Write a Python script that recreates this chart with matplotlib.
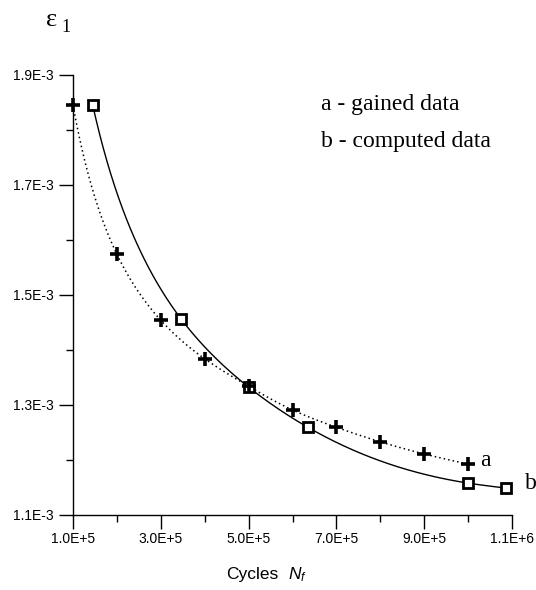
import numpy as np
import matplotlib
matplotlib.use("Agg")
import matplotlib.pyplot as plt

# a - gained data (plus markers, dotted curve)
cycles_a = [1.0e5, 2.0e5, 3.0e5, 4.0e5, 5.0e5, 6.0e5, 7.0e5, 8.0e5, 9.0e5, 1.0e6]
strain_a = [1.845e-3, 1.574e-3, 1.454e-3, 1.384e-3, 1.334e-3, 1.291e-3, 1.2595e-3, 1.233e-3, 1.211e-3, 1.1926e-3]

# b - computed data (square markers, solid curve)
cycles_b = [1.45e5, 3.47e5, 5.0e5, 6.35e5, 1.0e6, 1.086e6]
strain_b = [1.845e-3, 1.4556e-3, 1.3325e-3, 1.2595e-3, 1.158e-3, 1.149e-3]

xticks = [1e5, 3e5, 5e5, 7e5, 9e5, 1.1e6]
xtick_labels = ["1.0E+5", "3.0E+5", "5.0E+5", "7.0E+5", "9.0E+5", "1.1E+6"]
xminor = [2e5, 4e5, 6e5, 8e5, 1e6]
yticks = [1.1e-3, 1.3e-3, 1.5e-3, 1.7e-3, 1.9e-3]
ytick_labels = ["1.1E-3", "1.3E-3", "1.5E-3", "1.7E-3", "1.9E-3"]
yminor = [1.2e-3, 1.4e-3, 1.6e-3, 1.8e-3]

plt.rcParams["mathtext.fontset"] = "custom"
plt.rcParams["mathtext.rm"] = "Liberation Sans"
plt.rcParams["mathtext.it"] = "Liberation Sans:italic"


def spline_curve(x, y, n=400):
    # natural cubic spline through the markers, in log-log space
    t = np.log(np.asarray(x, dtype=float))
    v = np.log(np.asarray(y, dtype=float))
    k = len(t)
    h = np.diff(t)
    A = np.zeros((k, k))
    r = np.zeros(k)
    A[0, 0] = A[-1, -1] = 1.0
    for i in range(1, k - 1):
        A[i, i - 1] = h[i - 1]
        A[i, i] = 2 * (h[i - 1] + h[i])
        A[i, i + 1] = h[i]
        r[i] = 3 * ((v[i + 1] - v[i]) / h[i] - (v[i] - v[i - 1]) / h[i - 1])
    c = np.linalg.solve(A, r)
    b = (v[1:] - v[:-1]) / h - h * (2 * c[:-1] + c[1:]) / 3
    d = (c[1:] - c[:-1]) / (3 * h)
    ts = np.linspace(t[0], t[-1], n)
    idx = np.clip(np.searchsorted(t, ts) - 1, 0, k - 2)
    dt = ts - t[idx]
    vs = v[idx] + b[idx] * dt + c[idx] * dt ** 2 + d[idx] * dt ** 3
    return np.exp(ts), np.exp(vs)


fig = plt.figure(figsize=(5.36, 5.90), dpi=100)
ax = fig.add_axes([73 / 536, 1 - 515 / 590, (512 - 73) / 536, 440 / 590])

xa, ya = spline_curve(cycles_a, strain_a)
xb, yb = spline_curve(cycles_b, strain_b)
ax.plot(xa, ya, color="black", lw=1.1, linestyle=(0, (1, 2)), clip_on=False)
ax.plot(xb, yb, color="black", lw=1.0, clip_on=False)

ax.plot(cycles_b, strain_b, linestyle="none", marker="s", ms=7, mfc="white",
        mec="black", mew=2.0, clip_on=False, zorder=3)
ax.plot(cycles_a, strain_a, linestyle="none", marker="+", ms=10, mew=2.6,
        color="black", clip_on=False, zorder=4)

ax.set_xlim(1e5, 1.1e6)
ax.set_ylim(1.1e-3, 1.9e-3)
ax.set_xticks(xticks)
ax.set_xticklabels(xtick_labels)
ax.set_xticks(xminor, minor=True)
ax.set_yticks(yticks)
ax.set_yticklabels(ytick_labels)
ax.set_yticks(yminor, minor=True)

for side in ("top", "right"):
    ax.spines[side].set_visible(False)
for side in ("left", "bottom"):
    ax.spines[side].set_linewidth(1.0)

ax.tick_params(which="major", direction="out", length=10, width=1.0,
               labelsize=10, pad=2)
ax.tick_params(which="minor", direction="out", length=5, width=1.0)
ax.tick_params(axis="y", which="major", pad=4)
for lab in ax.get_xticklabels() + ax.get_yticklabels():
    lab.set_family("Liberation Sans")

serif = "Liberation Serif"
ax.text(0.565, 0.932, "a - gained data", transform=ax.transAxes, fontsize=17,
        family=serif, ha="left", va="center")
ax.text(0.565, 0.848, "b - computed data", transform=ax.transAxes, fontsize=17,
        family=serif, ha="left", va="center")

ax.text(1.027e6, 1.199e-3, "a", fontsize=17, family=serif, ha="left", va="center")
ax.text(1.13e6, 1.157e-3, "b", fontsize=17, family=serif, ha="left", va="center")

ax.text(0.3485, -0.135, "Cycles", transform=ax.transAxes, fontsize=12.5,
        family="Liberation Sans", ha="left", va="center")
ax.text(0.49, -0.135, "$N_f$", transform=ax.transAxes, fontsize=12.5,
        ha="left", va="center")

# strain symbol above the y axis
fig.text(46 / 536, 1 - 20 / 590, "ε", fontsize=19, family=serif,
         ha="left", va="center")
fig.text(61 / 536, 1 - 28 / 590, "1", fontsize=13, family=serif,
         ha="left", va="center")

fig.savefig("out.png", dpi=100)
